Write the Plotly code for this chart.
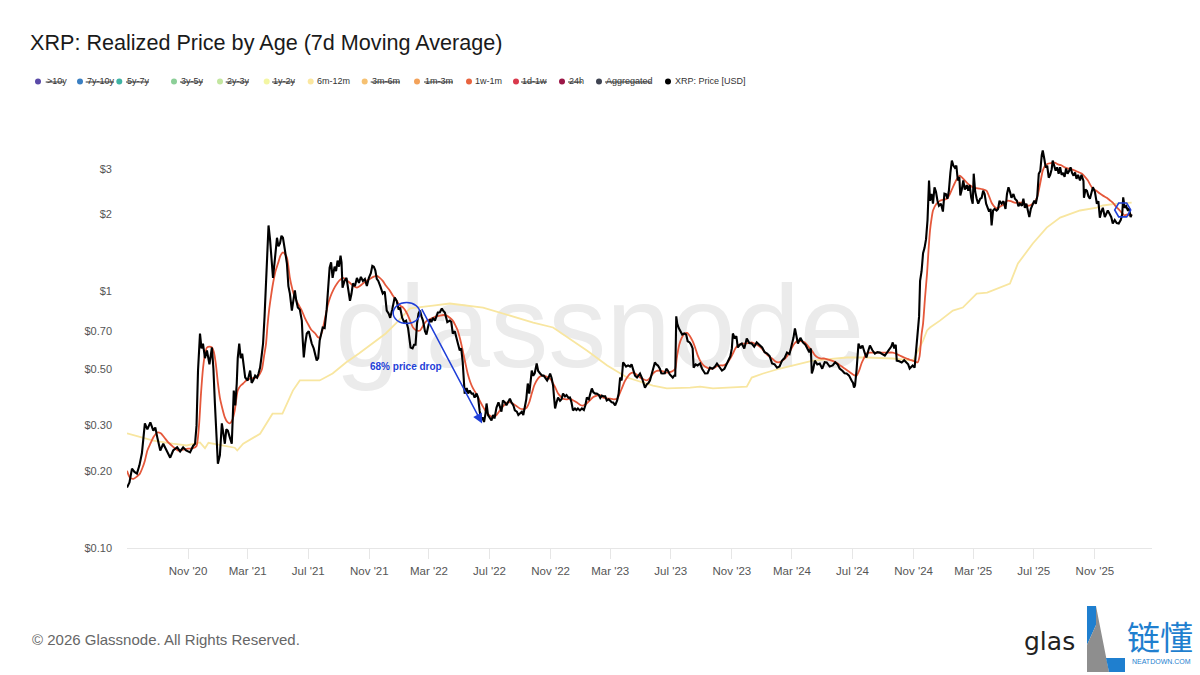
import math
import plotly.graph_objects as go

# ---------------- DATA ----------------
price_points = [
    ("2020-07-01", 0.172), ("2020-07-06", 0.180), ("2020-07-11", 0.204), ("2020-07-16", 0.198),
    ("2020-07-21", 0.195), ("2020-07-26", 0.210), ("2020-07-31", 0.234), ("2020-08-06", 0.306),
    ("2020-08-11", 0.290), ("2020-08-17", 0.309), ("2020-08-23", 0.287), ("2020-08-27", 0.295),
    ("2020-08-31", 0.270), ("2020-09-06", 0.240), ("2020-09-12", 0.255), ("2020-09-17", 0.245),
    ("2020-09-26", 0.225), ("2020-10-02", 0.240), ("2020-10-10", 0.247), ("2020-10-16", 0.238),
    ("2020-10-22", 0.247), ("2020-10-28", 0.240), ("2020-11-05", 0.236), ("2020-11-11", 0.250),
    ("2020-11-15", 0.255), ("2020-11-18", 0.300), ("2020-11-21", 0.492), ("2020-11-25", 0.686),
    ("2020-11-28", 0.600), ("2020-12-01", 0.627), ("2020-12-05", 0.550), ("2020-12-09", 0.589),
    ("2020-12-14", 0.520), ("2020-12-19", 0.605), ("2020-12-22", 0.500), ("2020-12-25", 0.366),
    ("2020-12-28", 0.260), ("2020-12-31", 0.213), ("2021-01-04", 0.230), ("2021-01-08", 0.306),
    ("2021-01-11", 0.280), ("2021-01-14", 0.255), ("2021-01-17", 0.290), ("2021-01-20", 0.287),
    ("2021-01-24", 0.270), ("2021-01-28", 0.255), ("2021-02-01", 0.411), ("2021-02-04", 0.360),
    ("2021-02-07", 0.438), ("2021-02-09", 0.550), ("2021-02-12", 0.627), ("2021-02-15", 0.550),
    ("2021-02-18", 0.573), ("2021-02-21", 0.500), ("2021-02-24", 0.462), ("2021-03-01", 0.450),
    ("2021-03-06", 0.492), ("2021-03-09", 0.440), ("2021-03-12", 0.450), ("2021-03-16", 0.470),
    ("2021-03-20", 0.462), ("2021-03-23", 0.480), ("2021-03-26", 0.505), ("2021-03-29", 0.560),
    ("2021-04-01", 0.627), ("2021-04-04", 0.800), ("2021-04-07", 1.075), ("2021-04-09", 1.400),
    ("2021-04-12", 1.810), ("2021-04-15", 1.600), ("2021-04-18", 1.357), ("2021-04-21", 1.130),
    ("2021-04-25", 1.350), ("2021-04-29", 1.620), ("2021-05-02", 1.500), ("2021-05-05", 1.540),
    ("2021-05-08", 1.650), ("2021-05-11", 1.620), ("2021-05-15", 1.450), ("2021-05-19", 1.286),
    ("2021-05-22", 1.050), ("2021-05-25", 0.982), ("2021-05-29", 0.843), ("2021-06-01", 0.950),
    ("2021-06-04", 1.010), ("2021-06-07", 0.920), ("2021-06-10", 0.866), ("2021-06-14", 0.850),
    ("2021-06-18", 0.770), ("2021-06-20", 0.640), ("2021-06-22", 0.553), ("2021-06-25", 0.630),
    ("2021-06-28", 0.686), ("2021-07-02", 0.700), ("2021-07-08", 0.627), ("2021-07-12", 0.600),
    ("2021-07-15", 0.570), ("2021-07-18", 0.538), ("2021-07-21", 0.550), ("2021-07-24", 0.644),
    ("2021-07-30", 0.724), ("2021-08-03", 0.720), ("2021-08-07", 0.850), ("2021-08-10", 1.000),
    ("2021-08-13", 1.240), ("2021-08-16", 1.300), ("2021-08-19", 1.130), ("2021-08-23", 1.250),
    ("2021-08-26", 1.200), ("2021-08-29", 1.320), ("2021-09-01", 1.250), ("2021-09-04", 1.380),
    ("2021-09-06", 1.300), ("2021-09-08", 1.036), ("2021-09-12", 1.100), ("2021-09-16", 1.130),
    ("2021-09-20", 0.980), ("2021-09-23", 0.920), ("2021-09-26", 0.980), ("2021-09-29", 1.075),
    ("2021-10-03", 1.050), ("2021-10-07", 1.130), ("2021-10-11", 1.080), ("2021-10-15", 1.140),
    ("2021-10-19", 1.100), ("2021-10-23", 1.120), ("2021-10-27", 1.050), ("2021-10-31", 1.130),
    ("2021-11-04", 1.180), ("2021-11-07", 1.260), ("2021-11-10", 1.250), ("2021-11-13", 1.210),
    ("2021-11-16", 1.120), ("2021-11-19", 1.100), ("2021-11-23", 1.050), ("2021-11-28", 0.982),
    ("2021-12-02", 1.000), ("2021-12-06", 0.843), ("2021-12-10", 0.820), ("2021-12-13", 0.790),
    ("2021-12-17", 0.850), ("2021-12-22", 0.948), ("2021-12-26", 0.920), ("2021-12-30", 0.850),
    ("2022-01-02", 0.866), ("2022-01-06", 0.790), ("2022-01-10", 0.760), ("2022-01-14", 0.770),
    ("2022-01-18", 0.720), ("2022-01-21", 0.650), ("2022-01-23", 0.605), ("2022-01-27", 0.600),
    ("2022-01-30", 0.620), ("2022-02-02", 0.620), ("2022-02-05", 0.750), ("2022-02-08", 0.820),
    ("2022-02-11", 0.843), ("2022-02-14", 0.800), ("2022-02-17", 0.770), ("2022-02-21", 0.700),
    ("2022-02-24", 0.680), ("2022-02-27", 0.724), ("2022-03-03", 0.780), ("2022-03-06", 0.760),
    ("2022-03-09", 0.790), ("2022-03-13", 0.770), ("2022-03-16", 0.800), ("2022-03-19", 0.828),
    ("2022-03-23", 0.830), ("2022-03-27", 0.859), ("2022-03-30", 0.840), ("2022-04-02", 0.828),
    ("2022-04-07", 0.760), ("2022-04-12", 0.770), ("2022-04-15", 0.760), ("2022-04-18", 0.686),
    ("2022-04-22", 0.700), ("2022-04-26", 0.660), ("2022-04-29", 0.620), ("2022-05-02", 0.589),
    ("2022-05-05", 0.600), ("2022-05-08", 0.530), ("2022-05-10", 0.450), ("2022-05-12", 0.400),
    ("2022-05-16", 0.420), ("2022-05-19", 0.400), ("2022-05-22", 0.411), ("2022-05-26", 0.400),
    ("2022-05-29", 0.400), ("2022-06-01", 0.386), ("2022-06-05", 0.400), ("2022-06-08", 0.385),
    ("2022-06-11", 0.344), ("2022-06-14", 0.315), ("2022-06-17", 0.323), ("2022-06-20", 0.310),
    ("2022-06-23", 0.335), ("2022-06-25", 0.366), ("2022-06-28", 0.330), ("2022-07-02", 0.320),
    ("2022-07-05", 0.314), ("2022-07-08", 0.330), ("2022-07-11", 0.320), ("2022-07-15", 0.353),
    ("2022-07-19", 0.370), ("2022-07-22", 0.355), ("2022-07-25", 0.340), ("2022-07-28", 0.376),
    ("2022-08-01", 0.370), ("2022-08-04", 0.360), ("2022-08-08", 0.370), ("2022-08-11", 0.382),
    ("2022-08-14", 0.370), ("2022-08-18", 0.360), ("2022-08-21", 0.344), ("2022-08-25", 0.340),
    ("2022-08-28", 0.330), ("2022-08-31", 0.334), ("2022-09-04", 0.340), ("2022-09-07", 0.330),
    ("2022-09-10", 0.353), ("2022-09-13", 0.380), ("2022-09-16", 0.438), ("2022-09-19", 0.400),
    ("2022-09-22", 0.450), ("2022-09-24", 0.492), ("2022-09-27", 0.470), ("2022-09-30", 0.480),
    ("2022-10-04", 0.524), ("2022-10-07", 0.490), ("2022-10-11", 0.479), ("2022-10-15", 0.470),
    ("2022-10-18", 0.470), ("2022-10-21", 0.462), ("2022-10-25", 0.450), ("2022-10-28", 0.462),
    ("2022-10-31", 0.479), ("2022-11-03", 0.460), ("2022-11-06", 0.430), ("2022-11-08", 0.386),
    ("2022-11-10", 0.350), ("2022-11-13", 0.370), ("2022-11-16", 0.386), ("2022-11-20", 0.375),
    ("2022-11-23", 0.380), ("2022-11-26", 0.400), ("2022-11-30", 0.390), ("2022-12-03", 0.395),
    ("2022-12-07", 0.385), ("2022-12-10", 0.386), ("2022-12-13", 0.370), ("2022-12-16", 0.344),
    ("2022-12-20", 0.350), ("2022-12-23", 0.345), ("2022-12-26", 0.350), ("2022-12-30", 0.344),
    ("2023-01-03", 0.350), ("2023-01-07", 0.345), ("2023-01-10", 0.360), ("2023-01-13", 0.386),
    ("2023-01-17", 0.380), ("2023-01-20", 0.400), ("2023-01-23", 0.419), ("2023-01-26", 0.405),
    ("2023-01-30", 0.400), ("2023-02-02", 0.400), ("2023-02-06", 0.395), ("2023-02-09", 0.385),
    ("2023-02-12", 0.393), ("2023-02-16", 0.390), ("2023-02-19", 0.390), ("2023-02-22", 0.376),
    ("2023-02-26", 0.380), ("2023-03-01", 0.375), ("2023-03-04", 0.370), ("2023-03-07", 0.369),
    ("2023-03-11", 0.360), ("2023-03-15", 0.376), ("2023-03-18", 0.400), ("2023-03-21", 0.462),
    ("2023-03-24", 0.450), ("2023-03-27", 0.529), ("2023-03-30", 0.520), ("2023-04-02", 0.510),
    ("2023-04-06", 0.515), ("2023-04-10", 0.510), ("2023-04-13", 0.520), ("2023-04-16", 0.501),
    ("2023-04-20", 0.470), ("2023-04-24", 0.462), ("2023-04-27", 0.470), ("2023-04-30", 0.479),
    ("2023-05-04", 0.460), ("2023-05-07", 0.440), ("2023-05-10", 0.422), ("2023-05-14", 0.435),
    ("2023-05-17", 0.440), ("2023-05-20", 0.450), ("2023-05-23", 0.470), ("2023-05-27", 0.500),
    ("2023-05-30", 0.529), ("2023-06-02", 0.520), ("2023-06-05", 0.515), ("2023-06-09", 0.500),
    ("2023-06-12", 0.480), ("2023-06-15", 0.479), ("2023-06-19", 0.480), ("2023-06-22", 0.500),
    ("2023-06-25", 0.492), ("2023-06-29", 0.475), ("2023-07-02", 0.470), ("2023-07-05", 0.462),
    ("2023-07-08", 0.470), ("2023-07-10", 0.470), ("2023-07-12", 0.800), ("2023-07-14", 0.750),
    ("2023-07-17", 0.720), ("2023-07-20", 0.705), ("2023-07-24", 0.680), ("2023-07-28", 0.686),
    ("2023-08-01", 0.680), ("2023-08-04", 0.640), ("2023-08-08", 0.633), ("2023-08-11", 0.620),
    ("2023-08-14", 0.600), ("2023-08-16", 0.505), ("2023-08-20", 0.520), ("2023-08-24", 0.515),
    ("2023-08-29", 0.524), ("2023-09-02", 0.500), ("2023-09-08", 0.479), ("2023-09-13", 0.480),
    ("2023-09-18", 0.505), ("2023-09-23", 0.500), ("2023-09-28", 0.510), ("2023-10-02", 0.524),
    ("2023-10-07", 0.510), ("2023-10-12", 0.492), ("2023-10-17", 0.500), ("2023-10-22", 0.524),
    ("2023-10-26", 0.550), ("2023-10-29", 0.560), ("2023-11-01", 0.600), ("2023-11-03", 0.686),
    ("2023-11-07", 0.656), ("2023-11-10", 0.670), ("2023-11-13", 0.605), ("2023-11-17", 0.620),
    ("2023-11-21", 0.627), ("2023-11-26", 0.600), ("2023-12-01", 0.656), ("2023-12-06", 0.630),
    ("2023-12-11", 0.627), ("2023-12-16", 0.610), ("2023-12-21", 0.633), ("2023-12-26", 0.620),
    ("2024-01-01", 0.605), ("2024-01-06", 0.580), ("2024-01-11", 0.573), ("2024-01-16", 0.560),
    ("2024-01-21", 0.524), ("2024-01-26", 0.520), ("2024-01-31", 0.505), ("2024-02-05", 0.510),
    ("2024-02-10", 0.538), ("2024-02-15", 0.550), ("2024-02-20", 0.578), ("2024-02-25", 0.570),
    ("2024-03-01", 0.620), ("2024-03-04", 0.660), ("2024-03-07", 0.718), ("2024-03-10", 0.660),
    ("2024-03-13", 0.627), ("2024-03-18", 0.660), ("2024-03-23", 0.633), ("2024-03-28", 0.620),
    ("2024-04-02", 0.589), ("2024-04-05", 0.580), ("2024-04-08", 0.600), ("2024-04-10", 0.479),
    ("2024-04-13", 0.500), ("2024-04-16", 0.538), ("2024-04-21", 0.520), ("2024-04-26", 0.524),
    ("2024-05-01", 0.500), ("2024-05-06", 0.530), ("2024-05-10", 0.529), ("2024-05-16", 0.510),
    ("2024-05-22", 0.515), ("2024-05-27", 0.530), ("2024-06-01", 0.520), ("2024-06-05", 0.501),
    ("2024-06-11", 0.490), ("2024-06-15", 0.480), ("2024-06-19", 0.479), ("2024-06-24", 0.470),
    ("2024-06-29", 0.450), ("2024-07-02", 0.440), ("2024-07-04", 0.422), ("2024-07-06", 0.430),
    ("2024-07-09", 0.492), ("2024-07-11", 0.550), ("2024-07-13", 0.627), ("2024-07-17", 0.600),
    ("2024-07-21", 0.616), ("2024-07-25", 0.580), ("2024-07-29", 0.553), ("2024-08-02", 0.590),
    ("2024-08-05", 0.616), ("2024-08-10", 0.590), ("2024-08-15", 0.573), ("2024-08-20", 0.580),
    ("2024-08-25", 0.578), ("2024-08-30", 0.570), ("2024-09-04", 0.563), ("2024-09-09", 0.580),
    ("2024-09-14", 0.600), ("2024-09-17", 0.610), ("2024-09-20", 0.633), ("2024-09-23", 0.600),
    ("2024-09-26", 0.620), ("2024-09-28", 0.538), ("2024-10-03", 0.535), ("2024-10-08", 0.529),
    ("2024-10-13", 0.540), ("2024-10-18", 0.524), ("2024-10-21", 0.520), ("2024-10-24", 0.501),
    ("2024-10-27", 0.510), ("2024-10-30", 0.515), ("2024-11-03", 0.505), ("2024-11-06", 0.600),
    ("2024-11-09", 0.686), ("2024-11-12", 0.800), ("2024-11-14", 1.100), ("2024-11-17", 1.200),
    ("2024-11-20", 1.410), ("2024-11-23", 1.480), ("2024-11-26", 1.600), ("2024-11-29", 1.900),
    ("2024-12-02", 2.710), ("2024-12-04", 2.260), ("2024-12-07", 2.400), ("2024-12-10", 2.200),
    ("2024-12-13", 2.550), ("2024-12-16", 2.450), ("2024-12-19", 2.260), ("2024-12-22", 2.160),
    ("2024-12-26", 2.200), ("2024-12-30", 2.050), ("2025-01-02", 2.410), ("2025-01-05", 2.400),
    ("2025-01-08", 2.300), ("2025-01-11", 2.470), ("2025-01-14", 2.900), ("2025-01-17", 3.240),
    ("2025-01-20", 3.100), ("2025-01-23", 3.040), ("2025-01-26", 3.100), ("2025-01-29", 2.710),
    ("2025-02-01", 2.800), ("2025-02-03", 2.370), ("2025-02-06", 2.500), ("2025-02-09", 2.710),
    ("2025-02-12", 2.500), ("2025-02-16", 2.600), ("2025-02-19", 2.470), ("2025-02-22", 2.600),
    ("2025-02-25", 2.320), ("2025-02-28", 2.200), ("2025-03-02", 2.880), ("2025-03-05", 2.450),
    ("2025-03-08", 2.300), ("2025-03-11", 2.200), ("2025-03-15", 2.300), ("2025-03-18", 2.320),
    ("2025-03-21", 2.470), ("2025-03-24", 2.400), ("2025-03-27", 2.200), ("2025-03-30", 2.100),
    ("2025-04-02", 2.050), ("2025-04-05", 2.100), ("2025-04-07", 1.810), ("2025-04-10", 2.070),
    ("2025-04-13", 2.100), ("2025-04-17", 2.070), ("2025-04-20", 2.100), ("2025-04-23", 2.260),
    ("2025-04-27", 2.200), ("2025-05-01", 2.250), ("2025-05-05", 2.100), ("2025-05-08", 2.400),
    ("2025-05-11", 2.550), ("2025-05-14", 2.450), ("2025-05-17", 2.320), ("2025-05-21", 2.400),
    ("2025-05-24", 2.300), ("2025-05-28", 2.260), ("2025-05-31", 2.150), ("2025-06-03", 2.200),
    ("2025-06-07", 2.160), ("2025-06-10", 2.300), ("2025-06-13", 2.120), ("2025-06-16", 2.200),
    ("2025-06-19", 2.030), ("2025-06-22", 1.950), ("2025-06-25", 2.100), ("2025-06-29", 2.200),
    ("2025-07-02", 2.260), ("2025-07-05", 2.200), ("2025-07-08", 2.350), ("2025-07-11", 2.880),
    ("2025-07-14", 2.950), ("2025-07-17", 3.400), ("2025-07-19", 3.550), ("2025-07-22", 3.300),
    ("2025-07-25", 3.040), ("2025-07-28", 3.100), ("2025-07-31", 2.780), ("2025-08-03", 2.850),
    ("2025-08-06", 3.000), ("2025-08-08", 3.240), ("2025-08-11", 3.100), ("2025-08-14", 2.960),
    ("2025-08-17", 3.050), ("2025-08-20", 2.880), ("2025-08-23", 3.050), ("2025-08-26", 2.850),
    ("2025-08-29", 2.900), ("2025-09-01", 2.800), ("2025-09-04", 3.020), ("2025-09-07", 2.880),
    ("2025-09-10", 2.950), ("2025-09-13", 3.050), ("2025-09-16", 2.900), ("2025-09-19", 2.830),
    ("2025-09-22", 2.910), ("2025-09-25", 2.750), ("2025-09-28", 2.850), ("2025-10-02", 2.710),
    ("2025-10-05", 2.850), ("2025-10-09", 2.700), ("2025-10-10", 2.320), ("2025-10-13", 2.500),
    ("2025-10-16", 2.470), ("2025-10-19", 2.350), ("2025-10-22", 2.300), ("2025-10-25", 2.400),
    ("2025-10-28", 2.550), ("2025-11-01", 2.450), ("2025-11-05", 2.200), ("2025-11-08", 2.250),
    ("2025-11-11", 1.940), ("2025-11-14", 2.050), ("2025-11-17", 2.120), ("2025-11-21", 1.950),
    ("2025-11-24", 2.000), ("2025-11-27", 2.070), ("2025-12-01", 2.000), ("2025-12-04", 1.950),
    ("2025-12-07", 1.840), ("2025-12-11", 1.900), ("2025-12-15", 1.850), ("2025-12-19", 1.840),
    ("2025-12-23", 1.900), ("2025-12-26", 2.000), ("2025-12-28", 2.330), ("2025-12-31", 2.120),
    ("2026-01-03", 2.150), ("2026-01-06", 2.080), ("2026-01-09", 2.100), ("2026-01-12", 1.950),
    ("2026-01-14", 2.000),
]

rp_1w1m_points = [
    ("2020-07-01", 0.200), ("2020-07-07", 0.188), ("2020-07-14", 0.186), ("2020-07-21", 0.190),
    ("2020-07-27", 0.195), ("2020-08-01", 0.205), ("2020-08-06", 0.219), ("2020-08-11", 0.240),
    ("2020-08-17", 0.255), ("2020-08-24", 0.272), ("2020-08-31", 0.282), ("2020-09-07", 0.280),
    ("2020-09-14", 0.270), ("2020-09-22", 0.258), ("2020-10-02", 0.248), ("2020-10-12", 0.240),
    ("2020-10-22", 0.242), ("2020-11-01", 0.244), ("2020-11-11", 0.245), ("2020-11-18", 0.250),
    ("2020-11-23", 0.300), ("2020-11-27", 0.400), ("2020-12-01", 0.500), ("2020-12-05", 0.570),
    ("2020-12-09", 0.605), ("2020-12-14", 0.610), ("2020-12-19", 0.605), ("2020-12-23", 0.580),
    ("2020-12-27", 0.520), ("2020-12-31", 0.440), ("2021-01-04", 0.386), ("2021-01-09", 0.350),
    ("2021-01-14", 0.323), ("2021-01-19", 0.310), ("2021-01-24", 0.306), ("2021-01-29", 0.315),
    ("2021-02-03", 0.344), ("2021-02-09", 0.411), ("2021-02-15", 0.430), ("2021-02-20", 0.438),
    ("2021-02-27", 0.452), ("2021-03-06", 0.458), ("2021-03-13", 0.460), ("2021-03-20", 0.462),
    ("2021-03-26", 0.480), ("2021-03-30", 0.500), ("2021-04-03", 0.560), ("2021-04-07", 0.627),
    ("2021-04-10", 0.740), ("2021-04-13", 0.843), ("2021-04-17", 0.960), ("2021-04-21", 1.075),
    ("2021-04-26", 1.200), ("2021-05-01", 1.286), ("2021-05-06", 1.380), ("2021-05-11", 1.420),
    ("2021-05-15", 1.400), ("2021-05-19", 1.357), ("2021-05-22", 1.250), ("2021-05-25", 1.130),
    ("2021-05-30", 1.020), ("2021-06-04", 0.948), ("2021-06-11", 0.890), ("2021-06-18", 0.843),
    ("2021-06-24", 0.790), ("2021-06-30", 0.750), ("2021-07-07", 0.710), ("2021-07-15", 0.686),
    ("2021-07-20", 0.665), ("2021-07-24", 0.660), ("2021-07-29", 0.700), ("2021-08-04", 0.790),
    ("2021-08-09", 0.880), ("2021-08-14", 0.948), ("2021-08-21", 1.020), ("2021-08-28", 1.075),
    ("2021-09-03", 1.110), ("2021-09-09", 1.130), ("2021-09-16", 1.110), ("2021-09-23", 1.080),
    ("2021-09-30", 1.050), ("2021-10-07", 1.036), ("2021-10-13", 1.050), ("2021-10-19", 1.075),
    ("2021-10-26", 1.100), ("2021-11-02", 1.120), ("2021-11-09", 1.140), ("2021-11-16", 1.150),
    ("2021-11-22", 1.130), ("2021-11-28", 1.100), ("2021-12-05", 1.050), ("2021-12-12", 1.010),
    ("2021-12-19", 0.960), ("2021-12-26", 0.920), ("2022-01-02", 0.880), ("2022-01-08", 0.866),
    ("2022-01-16", 0.820), ("2022-01-22", 0.770), ("2022-01-28", 0.724), ("2022-02-04", 0.705),
    ("2022-02-11", 0.705), ("2022-02-18", 0.740), ("2022-02-25", 0.770), ("2022-03-03", 0.780),
    ("2022-03-09", 0.790), ("2022-03-16", 0.800), ("2022-03-23", 0.806), ("2022-03-30", 0.810),
    ("2022-04-06", 0.806), ("2022-04-12", 0.790), ("2022-04-18", 0.770), ("2022-04-23", 0.740),
    ("2022-04-28", 0.705), ("2022-05-03", 0.650), ("2022-05-08", 0.589), ("2022-05-13", 0.530),
    ("2022-05-18", 0.479), ("2022-05-23", 0.445), ("2022-05-28", 0.422), ("2022-06-04", 0.400),
    ("2022-06-11", 0.376), ("2022-06-18", 0.355), ("2022-06-25", 0.338), ("2022-07-02", 0.328),
    ("2022-07-08", 0.323), ("2022-07-15", 0.330), ("2022-07-22", 0.344), ("2022-07-29", 0.358),
    ("2022-08-05", 0.369), ("2022-08-11", 0.370), ("2022-08-17", 0.366), ("2022-08-24", 0.358),
    ("2022-08-31", 0.350), ("2022-09-07", 0.348), ("2022-09-14", 0.353), ("2022-09-19", 0.370),
    ("2022-09-24", 0.400), ("2022-09-29", 0.430), ("2022-10-04", 0.450), ("2022-10-10", 0.465),
    ("2022-10-15", 0.470), ("2022-10-21", 0.468), ("2022-10-27", 0.462), ("2022-11-01", 0.455),
    ("2022-11-06", 0.438), ("2022-11-11", 0.420), ("2022-11-16", 0.400), ("2022-11-21", 0.390),
    ("2022-11-26", 0.382), ("2022-12-03", 0.380), ("2022-12-10", 0.382), ("2022-12-17", 0.376),
    ("2022-12-24", 0.369), ("2022-12-30", 0.362), ("2023-01-05", 0.359), ("2023-01-12", 0.365),
    ("2023-01-19", 0.376), ("2023-01-26", 0.388), ("2023-02-02", 0.393), ("2023-02-08", 0.395),
    ("2023-02-14", 0.386), ("2023-02-22", 0.383), ("2023-03-01", 0.382), ("2023-03-08", 0.380),
    ("2023-03-15", 0.382), ("2023-03-20", 0.400), ("2023-03-25", 0.422), ("2023-03-30", 0.445),
    ("2023-04-04", 0.462), ("2023-04-10", 0.478), ("2023-04-16", 0.483), ("2023-04-23", 0.475),
    ("2023-04-30", 0.462), ("2023-05-07", 0.455), ("2023-05-14", 0.450), ("2023-05-20", 0.460),
    ("2023-05-26", 0.479), ("2023-06-02", 0.490), ("2023-06-09", 0.492), ("2023-06-16", 0.488),
    ("2023-06-23", 0.483), ("2023-06-29", 0.485), ("2023-07-05", 0.490), ("2023-07-10", 0.500),
    ("2023-07-13", 0.550), ("2023-07-18", 0.620), ("2023-07-23", 0.660), ("2023-07-29", 0.686),
    ("2023-08-03", 0.690), ("2023-08-08", 0.673), ("2023-08-14", 0.640), ("2023-08-19", 0.605),
    ("2023-08-24", 0.565), ("2023-08-29", 0.538), ("2023-09-05", 0.515), ("2023-09-12", 0.505),
    ("2023-09-18", 0.500), ("2023-09-24", 0.501), ("2023-10-01", 0.510), ("2023-10-08", 0.515),
    ("2023-10-15", 0.515), ("2023-10-22", 0.524), ("2023-10-28", 0.545), ("2023-11-03", 0.573),
    ("2023-11-08", 0.600), ("2023-11-13", 0.616), ("2023-11-20", 0.625), ("2023-11-27", 0.627),
    ("2023-12-04", 0.630), ("2023-12-11", 0.633), ("2023-12-18", 0.625), ("2023-12-24", 0.616),
    ("2023-12-31", 0.600), ("2024-01-07", 0.578), ("2024-01-14", 0.560), ("2024-01-21", 0.548),
    ("2024-01-27", 0.535), ("2024-02-02", 0.529), ("2024-02-09", 0.535), ("2024-02-16", 0.548),
    ("2024-02-23", 0.570), ("2024-03-01", 0.605), ("2024-03-07", 0.630), ("2024-03-13", 0.644),
    ("2024-03-20", 0.640), ("2024-03-27", 0.633), ("2024-04-03", 0.610), ("2024-04-10", 0.589),
    ("2024-04-16", 0.565), ("2024-04-22", 0.553), ("2024-04-29", 0.548), ("2024-05-06", 0.548),
    ("2024-05-13", 0.543), ("2024-05-20", 0.538), ("2024-05-26", 0.532), ("2024-06-01", 0.524),
    ("2024-06-08", 0.512), ("2024-06-15", 0.501), ("2024-06-22", 0.490), ("2024-06-29", 0.479),
    ("2024-07-04", 0.472), ("2024-07-09", 0.470), ("2024-07-14", 0.490), ("2024-07-19", 0.524),
    ("2024-07-24", 0.550), ("2024-07-29", 0.573), ("2024-08-05", 0.578), ("2024-08-12", 0.578),
    ("2024-08-25", 0.578), ("2024-09-08", 0.578), ("2024-09-20", 0.578), ("2024-09-27", 0.572),
    ("2024-10-04", 0.563), ("2024-10-11", 0.555), ("2024-10-18", 0.548), ("2024-10-24", 0.542),
    ("2024-10-30", 0.538), ("2024-11-04", 0.533), ("2024-11-09", 0.529), ("2024-11-13", 0.560),
    ("2024-11-17", 0.680), ("2024-11-20", 0.750), ("2024-11-24", 0.950), ("2024-11-28", 1.175),
    ("2024-12-01", 1.450), ("2024-12-04", 1.730), ("2024-12-07", 1.920), ("2024-12-10", 2.070),
    ("2024-12-17", 2.200), ("2024-12-24", 2.260), ("2024-12-31", 2.280), ("2025-01-07", 2.300),
    ("2025-01-13", 2.400), ("2025-01-19", 2.550), ("2025-01-26", 2.720), ("2025-02-02", 2.830),
    ("2025-02-09", 2.750), ("2025-02-16", 2.660), ("2025-02-22", 2.600), ("2025-02-28", 2.550),
    ("2025-03-07", 2.530), ("2025-03-14", 2.520), ("2025-03-21", 2.500), ("2025-03-28", 2.470),
    ("2025-04-02", 2.350), ("2025-04-07", 2.220), ("2025-04-12", 2.150), ("2025-04-17", 2.110),
    ("2025-04-22", 2.130), ("2025-04-27", 2.160), ("2025-05-03", 2.200), ("2025-05-09", 2.260),
    ("2025-05-16", 2.250), ("2025-05-23", 2.220), ("2025-05-30", 2.220), ("2025-06-07", 2.220),
    ("2025-06-13", 2.190), ("2025-06-19", 2.160), ("2025-06-24", 2.170), ("2025-06-29", 2.200),
    ("2025-07-04", 2.250), ("2025-07-09", 2.380), ("2025-07-14", 2.650), ("2025-07-19", 2.960),
    ("2025-07-24", 3.100), ("2025-07-29", 3.150), ("2025-08-05", 3.170), ("2025-08-12", 3.180),
    ("2025-08-19", 3.130), ("2025-08-26", 3.100), ("2025-09-01", 3.050), ("2025-09-07", 3.020),
    ("2025-09-14", 3.000), ("2025-09-22", 2.960), ("2025-09-29", 2.920), ("2025-10-06", 2.880),
    ("2025-10-12", 2.800), ("2025-10-18", 2.710), ("2025-10-23", 2.600), ("2025-10-28", 2.520),
    ("2025-11-04", 2.470), ("2025-11-11", 2.410), ("2025-11-18", 2.360), ("2025-11-25", 2.320),
    ("2025-12-01", 2.270), ("2025-12-07", 2.220), ("2025-12-14", 2.140), ("2025-12-21", 2.070),
    ("2025-12-26", 2.020), ("2025-12-31", 1.980), ("2026-01-05", 2.000), ("2026-01-10", 1.980),
    ("2026-01-14", 2.000),
]

rp_6m12m_points = [
    ("2020-07-01", 0.280), ("2020-08-23", 0.262), ("2020-10-01", 0.255), ("2020-10-29", 0.251),
    ("2020-11-25", 0.258), ("2020-12-05", 0.245), ("2020-12-12", 0.257), ("2021-01-04", 0.252),
    ("2021-01-20", 0.250), ("2021-02-03", 0.246), ("2021-02-08", 0.240), ("2021-02-20", 0.255),
    ("2021-03-26", 0.279), ("2021-04-20", 0.334), ("2021-05-10", 0.334), ("2021-05-31", 0.411),
    ("2021-06-14", 0.450), ("2021-07-24", 0.450), ("2021-08-19", 0.479), ("2021-09-15", 0.529),
    ("2021-10-11", 0.573), ("2021-11-06", 0.627), ("2021-12-04", 0.686), ("2021-12-24", 0.750),
    ("2022-01-22", 0.859), ("2022-03-09", 0.882), ("2022-04-12", 0.898), ("2022-06-18", 0.866),
    ("2022-07-22", 0.828), ("2022-09-27", 0.757), ("2022-11-06", 0.724), ("2022-12-16", 0.644),
    ("2023-01-13", 0.589), ("2023-02-23", 0.515), ("2023-04-04", 0.462), ("2023-05-26", 0.430),
    ("2023-06-23", 0.419), ("2023-08-09", 0.422), ("2023-08-29", 0.426), ("2023-09-24", 0.419),
    ("2023-12-01", 0.426), ("2023-12-11", 0.462), ("2024-01-03", 0.479), ("2024-02-06", 0.501),
    ("2024-04-12", 0.538), ("2024-06-20", 0.553), ("2024-07-30", 0.553), ("2024-09-20", 0.548),
    ("2024-10-31", 0.538), ("2024-11-20", 0.644), ("2024-11-28", 0.705), ("2024-12-04", 0.724),
    ("2024-12-24", 0.770), ("2025-01-19", 0.843), ("2025-02-08", 0.866), ("2025-03-08", 0.982),
    ("2025-03-29", 0.991), ("2025-05-14", 1.075), ("2025-05-30", 1.286), ("2025-06-29", 1.539),
    ("2025-07-27", 1.776), ("2025-08-23", 1.943), ("2025-10-02", 2.070), ("2025-11-05", 2.125),
    ("2025-11-17", 2.165), ("2025-12-15", 2.200), ("2026-01-14", 2.220),
]

price_dates = [d for d, _ in price_points]
price_values = [v for _, v in price_points]
rp_1w1m_dates = [d for d, _ in rp_1w1m_points]
rp_1w1m_values = [v for _, v in rp_1w1m_points]
rp_6m12m_dates = [d for d, _ in rp_6m12m_points]
rp_6m12m_values = [v for _, v in rp_6m12m_points]

x_tick_dates = ["2020-11-01", "2021-03-01", "2021-07-01", "2021-11-01", "2022-03-01", "2022-07-01",
                "2022-11-01", "2023-03-01", "2023-07-01", "2023-11-01", "2024-03-01", "2024-07-01",
                "2024-11-01", "2025-03-01", "2025-07-01", "2025-11-01"]
x_tick_labels = ["Nov '20", "Mar '21", "Jul '21", "Nov '21", "Mar '22", "Jul '22", "Nov '22", "Mar '23",
                 "Jul '23", "Nov '23", "Mar '24", "Jul '24", "Nov '24", "Mar '25", "Jul '25", "Nov '25"]
y_tick_values = [0.1, 0.2, 0.3, 0.5, 0.7, 1, 2, 3]
y_tick_labels = ["$0.10", "$0.20", "$0.30", "$0.50", "$0.70", "$1", "$2", "$3"]

legend_names = ["&gt;10y", "7y-10y", "5y-7y", "3y-5y", "2y-3y", "1y-2y", "6m-12m", "3m-6m",
                "1m-3m", "1w-1m", "1d-1w", "24h", "Aggregated", "XRP: Price [USD]"]
legend_colors = ["#5a4aa8", "#3a7fc2", "#3fb3a3", "#8ccf98", "#c3e6a0", "#f3f6a3", "#fbe7a0",
                 "#f6c172", "#f3a25a", "#e8643f", "#d9394c", "#9b1747", "#3f4452", "#000000"]
legend_struck = [True, True, True, True, True, True, False, True, True, False, True, True, True, False]

drop_label = "68% price drop"
drop_from = ("2022-02-13", 0.866)
drop_to = ("2022-06-16", 0.306)
drop_text_at = ("2022-01-13", 0.51)
ellipse_box = ("2021-12-19", "2022-02-11", 0.75, 0.906)
hexagon_at = ("2025-12-27", 2.08)

# ---------------- LAYOUT HELPERS ----------------
W, H = 1200, 675
ML, MR, MT, MB = 127, 48, 112, 127
PW, PH = W - ML - MR, H - MT - MB


def px(x):
    return (x - ML) / PW


def py(y):
    return (H - MB - y) / PH


FONT = "Liberation Sans, Arial, Helvetica, sans-serif"
BLUE = "#1f3fd8"

fig = go.Figure()

# watermark (behind lines)
fig.add_trace(go.Scatter(
    x=["2023-02-08"], y=[0.66], mode="text", text=["glassnode"],
    textfont=dict(size=116, color="#ebebeb", family=FONT),
    hoverinfo="skip", showlegend=False))

fig.add_trace(go.Scatter(
    x=rp_6m12m_dates, y=rp_6m12m_values, mode="lines", name="6m-12m",
    line=dict(color="#f8e6a0", width=1.8), showlegend=False))
fig.add_trace(go.Scatter(
    x=rp_1w1m_dates, y=rp_1w1m_values, mode="lines", name="1w-1m",
    line=dict(color="#e5583b", width=1.8, shape="spline", smoothing=0.6), showlegend=False))
fig.add_trace(go.Scatter(
    x=price_dates, y=price_values, mode="lines", name="XRP: Price [USD]",
    line=dict(color="#000000", width=2.1), showlegend=False))

# hexagon marker
fig.add_trace(go.Scatter(
    x=[hexagon_at[0]], y=[hexagon_at[1]], mode="markers",
    marker=dict(symbol="hexagon2-open", size=16, color=BLUE, line=dict(color=BLUE, width=1.6)),
    hoverinfo="skip", showlegend=False))

shapes = []
annotations = []

# ellipse
shapes.append(dict(type="circle", xref="x", yref="y",
                   x0=ellipse_box[0], x1=ellipse_box[1], y0=ellipse_box[2], y1=ellipse_box[3],
                   line=dict(color=BLUE, width=1.5)))

# arrow
annotations.append(dict(
    x=drop_to[0], y=math.log10(drop_to[1]), ax=drop_from[0], ay=math.log10(drop_from[1]),
    xref="x", yref="y", axref="x", ayref="y", text="", showarrow=True,
    arrowhead=2, arrowsize=1.3, arrowwidth=1.5, arrowcolor=BLUE))
annotations.append(dict(
    x=drop_text_at[0], y=math.log10(drop_text_at[1]), xref="x", yref="y",
    text="<b>%s</b>" % drop_label, showarrow=False,
    font=dict(size=10, color=BLUE, family=FONT)))

# custom legend
dot_x = [38, 80, 119.3, 174, 220, 266.7, 310.7, 364.7, 417, 469, 516, 562, 599, 668]
txt_x0 = [45.7, 85.7, 126, 180, 225.7, 272, 316, 370.7, 424, 474, 521, 568, 605, 674]
txt_x1 = [64, 114, 149, 203, 249, 295, 350, 400, 453, 502, 547, 582, 651, 743]
LEG_Y = 81.5
for i, name in enumerate(legend_names):
    shapes.append(dict(type="circle", xref="paper", yref="paper",
                       xsizemode="pixel", ysizemode="pixel",
                       xanchor=px(dot_x[i]), yanchor=py(LEG_Y),
                       x0=-3, x1=3, y0=-3, y1=3,
                       fillcolor=legend_colors[i], line=dict(width=0)))
    annotations.append(dict(x=px(txt_x0[i] - 1), y=py(LEG_Y), xref="paper", yref="paper",
                            xanchor="left", yanchor="middle", text=name, showarrow=False,
                            font=dict(size=9, color="#333333", family=FONT)))
    if legend_struck[i]:
        shapes.append(dict(type="line", xref="paper", yref="paper",
                           x0=px(txt_x0[i]), x1=px(txt_x1[i]), y0=py(LEG_Y + 0.5), y1=py(LEG_Y + 0.5),
                           line=dict(color="#333333", width=1)))

# footer
annotations.append(dict(x=px(30), y=py(639), xref="paper", yref="paper", xanchor="left",
                        yanchor="middle", showarrow=False,
                        text="© 2026 Glassnode. All Rights Reserved.",
                        font=dict(size=15, color="#666666", family=FONT)))

# logos bottom right
annotations.append(dict(x=px(1049), y=py(641), xref="paper", yref="paper", xanchor="center",
                        yanchor="middle", showarrow=False, text="glas",
                        font=dict(size=25, color="#222222", family="DejaVu Sans, sans-serif")))


def path(points):
    return "M " + " L ".join("%f,%f" % (px(a), py(b)) for a, b in points) + " Z"


LB = "#1f7fcf"
shapes.append(dict(type="path", xref="paper", yref="paper",
                   path=path([(1087, 606), (1096, 606), (1096, 625), (1087, 645)]),
                   fillcolor=LB, line=dict(width=0)))
shapes.append(dict(type="path", xref="paper", yref="paper",
                   path=path([(1087, 645), (1096, 625), (1096, 606), (1109, 672), (1087, 672)]),
                   fillcolor="#8e8e8e", line=dict(width=0)))
shapes.append(dict(type="path", xref="paper", yref="paper",
                   path=path([(1106, 658), (1125, 658), (1125, 672), (1109, 672)]),
                   fillcolor=LB, line=dict(width=0)))
annotations.append(dict(x=px(1160), y=py(636), xref="paper", yref="paper", xanchor="center",
                        yanchor="middle", showarrow=False, text="链懂",
                        font=dict(size=33, color=LB, family="Noto Sans CJK SC")))
annotations.append(dict(x=px(1161), y=py(661), xref="paper", yref="paper", xanchor="center",
                        yanchor="middle", showarrow=False, text="NEATDOWN.COM",
                        font=dict(size=7, color=LB, family=FONT)))

fig.update_layout(
    width=W, height=H,
    margin=dict(l=ML, r=MR, t=MT, b=MB),
    paper_bgcolor="white", plot_bgcolor="white",
    showlegend=False,
    title=dict(text="XRP: Realized Price by Age (7d Moving Average)",
               x=30 / W, xref="container", xanchor="left",
               y=1 - 42 / H, yref="container", yanchor="middle",
               font=dict(size=21.6, color="#1a1a1a", family=FONT)),
    xaxis=dict(type="date", range=["2020-07-01", "2026-02-24"],
               tickvals=x_tick_dates, ticktext=x_tick_labels,
               showgrid=False, zeroline=False,
               showline=True, linecolor="#e6e6e6", linewidth=1,
               ticks="outside", ticklen=10, tickcolor="#e6e6e6", tickwidth=1,
               ticklabelstandoff=2,
               tickfont=dict(size=11.5, color="#555555", family=FONT)),
    yaxis=dict(type="log", range=[-1, 0.70],
               tickvals=y_tick_values, ticktext=y_tick_labels,
               showgrid=False, zeroline=False, showline=False, ticks="",
               ticklabelstandoff=14,
               tickfont=dict(size=11, color="#555555", family=FONT)),
    shapes=shapes,
    annotations=annotations,
)

fig.write_html("out.html")
